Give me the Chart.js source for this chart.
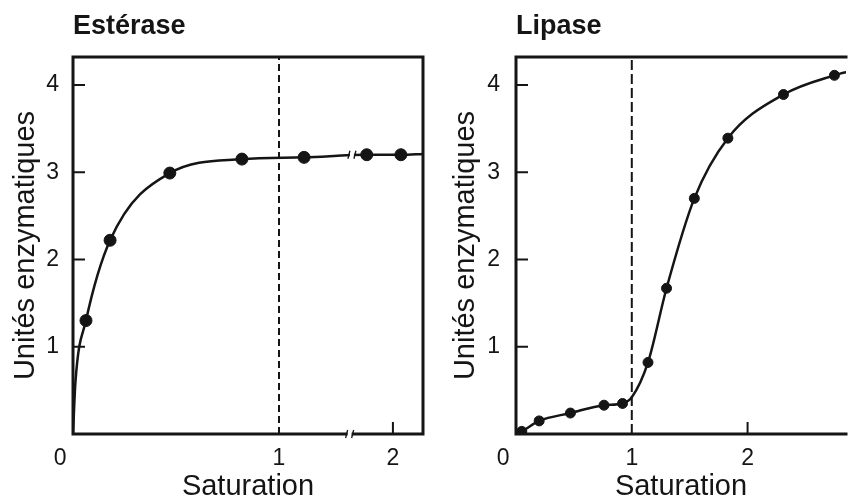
<!DOCTYPE html>
<html>
<head>
<meta charset="utf-8">
<script src="https://cdn.jsdelivr.net/npm/chart.js@4.4.0/dist/chart.umd.min.js"></script>
<style>
  html, body { margin: 0; padding: 0; background: #fff; }
  #wrap { position: relative; width: 852px; height: 501px; overflow: hidden; }
  .panel { position: absolute; top: 0; height: 501px; }
  #estPanel { left: 0; width: 430px; }
  #lipPanel { left: 430px; width: 422px; }
</style>
</head>
<body>
<div id="wrap">
  <div class="panel" id="estPanel"><canvas id="esterase" width="430" height="501"></canvas></div>
  <div class="panel" id="lipPanel"><canvas id="lipase" width="422" height="501"></canvas></div>
</div>
<script>
// Estérase: measured points (saturation, unités enzymatiques)
const estSat   = [0.063, 0.18, 0.47, 0.82, 1.22, 1.77, 2.07];
const estUnits = [1.30, 2.22, 2.99, 3.15, 3.17, 3.20, 3.20];
// extra points of the hand drawn curve (origin, first rise, right edge)
const estCurveSat   = [0, 0.012, 2.27];
const estCurveUnits = [0, 0.6, 3.21];

// Lipase
const lipSat   = [0.05, 0.20, 0.47, 0.76, 0.92, 1.14, 1.30, 1.54, 1.83, 2.31, 2.75];
const lipUnits = [0.03, 0.15, 0.24, 0.33, 0.35, 0.82, 1.67, 2.70, 3.39, 3.89, 4.11];
const lipCurveSat   = [0, 1.0, 2.9];
const lipCurveUnits = [0, 0.42, 4.16];

const yTicks = [0, 1, 2, 3, 4];
const xTicks = [0, 1, 2];

// the estérase x axis is broken after 1: 1 -> 2 is drawn shorter
const estKnots = [0, 1, 2];
const estKnotPos = [0, 1, 1.553];
const estBreak = 1.62;

const ink = '#151515';
const fontFamily = '"Liberation Sans", Arial, Helvetica, sans-serif';

function estAxis(s) {
    let i = 0;
    while (i < estKnots.length - 2 && s > estKnots[i + 1]) i++;
    const t = (s - estKnots[i]) / (estKnots[i + 1] - estKnots[i]);
    return estKnotPos[i] + t * (estKnotPos[i + 1] - estKnotPos[i]);
}

function points(xs, ys, map) {
    return xs.map((v, i) => ({ x: map(v), y: ys[i] }));
}

function curve(xs, ys, cx, cy, map) {
    return xs.concat(cx).map((v, i) => ({ s: v, y: ys.concat(cy)[i] }))
        .sort((a, b) => a.s - b.s)
        .map(p => ({ x: map(p.s), y: p.y }));
}

// frame, inner ticks, dashed line at saturation 1 and axis breaks
const decor = {
    id: 'decor',
    beforeDatasetsDraw(chart, args, o) {
        const { ctx, chartArea: a, scales: { x } } = chart;
        const px = x.getPixelForValue(o.dashAt);
        ctx.save();
        ctx.strokeStyle = ink;
        ctx.lineWidth = 2;
        ctx.setLineDash(o.dash);
        ctx.beginPath();
        ctx.moveTo(px, a.bottom);
        ctx.lineTo(px, a.top);
        ctx.stroke();
        ctx.restore();
    },
    afterDatasetsDraw(chart, args, o) {
        const { ctx, chartArea: a, scales: { x, y } } = chart;
        ctx.save();
        ctx.strokeStyle = ink;
        ctx.lineWidth = 3;
        ctx.lineCap = 'square';
        ctx.beginPath();
        if (o.rightBorder) {
            ctx.moveTo(a.right, a.top);
            ctx.lineTo(a.right, a.bottom);
        }
        ctx.moveTo(a.right, a.top);
        ctx.lineTo(a.left, a.top);
        ctx.lineTo(a.left, a.bottom);
        ctx.lineTo(a.right, a.bottom);
        ctx.stroke();

        // inner ticks
        ctx.lineWidth = 2;
        ctx.lineCap = 'butt';
        ctx.beginPath();
        y.ticks.forEach(t => {
            if (t.value === 0) return;
            const py = y.getPixelForValue(t.value);
            ctx.moveTo(a.left, py);
            ctx.lineTo(a.left + 12, py);
        });
        x.ticks.forEach(t => {
            if (t.value <= o.dashAt) return;
            const px = x.getPixelForValue(t.value);
            ctx.moveTo(px, a.bottom);
            ctx.lineTo(px, a.bottom - 12);
        });
        ctx.stroke();

        // axis break marks
        (o.breaks || []).forEach(b => {
            const bx = x.getPixelForValue(b.x);
            const by = y.getPixelForValue(b.y);
            ctx.fillStyle = '#fff';
            ctx.fillRect(bx - 2, by - 3, 4, 6);
            ctx.lineWidth = 1.3;
            ctx.beginPath();
            ctx.moveTo(bx - 4, by + 4);
            ctx.lineTo(bx - 2, by - 4);
            ctx.moveTo(bx + 2, by + 4);
            ctx.lineTo(bx + 4, by - 4);
            ctx.stroke();
        });
        ctx.restore();
    }
};

function makeChart(id, cfg) {
    const ctx = document.getElementById(id).getContext('2d');
    return new Chart(ctx, {
        type: 'scatter',
        data: {
            datasets: [{
                label: 'courbe',
                data: cfg.curve,
                showLine: true,
                borderColor: ink,
                borderWidth: 2.5,
                pointRadius: 0,
                cubicInterpolationMode: 'monotone'
            }, {
                label: 'mesures',
                data: cfg.points,
                showLine: false,
                backgroundColor: ink,
                borderColor: ink,
                pointRadius: cfg.radius,
                pointHoverRadius: cfg.radius
            }]
        },
        options: {
            responsive: false,
            animation: false,
            layout: { padding: { left: 0, right: cfg.padRight, top: 0, bottom: 0 } },
            plugins: {
                legend: { display: false },
                tooltip: { enabled: false },
                title: {
                    display: true,
                    text: cfg.title,
                    align: 'start',
                    fullSize: false,
                    color: ink,
                    font: { family: fontFamily, size: 27, weight: 'bold', lineHeight: 1.2 },
                    padding: { top: 10.5, bottom: 14.1 }
                },
                decor: cfg.decor
            },
            scales: {
                x: {
                    type: 'linear',
                    min: 0,
                    max: cfg.xMax,
                    grid: { display: false },
                    border: { display: false },
                    afterBuildTicks: s => { s.ticks = xTicks.map(v => ({ value: cfg.map(v) })); },
                    afterFit: s => { s.height = 67; },
                    ticks: {
                        color: ink,
                        padding: 3,
                        maxRotation: 0,
                        font: { family: fontFamily, size: 23 },
                        callback: (v, i) => xTicks[i] === 0 ? '0\u00A0\u00A0\u00A0\u00A0' : String(xTicks[i])
                    },
                    title: {
                        display: true,
                        text: 'Saturation',
                        color: ink,
                        font: { family: fontFamily, size: 29, lineHeight: 1 },
                        padding: { top: 0, bottom: 0 }
                    }
                },
                y: {
                    min: 0,
                    max: 4.32,
                    grid: { display: false },
                    border: { display: false },
                    afterBuildTicks: s => { s.ticks = yTicks.map(v => ({ value: v })); },
                    afterFit: s => { s.width = cfg.yWidth; },
                    ticks: {
                        color: ink,
                        padding: cfg.yTickPad,
                        font: { family: fontFamily, size: 23 },
                        callback: v => v === 0 ? '' : String(v)
                    },
                    title: {
                        display: true,
                        text: 'Unités enzymatiques',
                        color: ink,
                        font: { family: fontFamily, size: 29, lineHeight: 1.2 },
                        padding: { top: cfg.yTitlePad, bottom: 0 }
                    }
                }
            }
        },
        plugins: [decor]
    });
}

makeChart('esterase', {
    title: 'Estérase',
    map: estAxis,
    curve: curve(estSat, estUnits, estCurveSat, estCurveUnits, estAxis),
    points: points(estSat, estUnits, estAxis),
    radius: 6,
    xMax: 1.699,
    padRight: 7,
    yWidth: 73,
    yTickPad: 6,
    yTitlePad: 9,
    decor: {
        dashAt: 1,
        dash: [7, 4],
        rightBorder: true,
        breaks: [{ x: estAxis(estBreak), y: 0 }, { x: estAxis(estBreak + 0.02), y: 3.2 }]
    }
});

makeChart('lipase', {
    title: 'Lipase',
    map: v => v,
    curve: curve(lipSat, lipUnits, lipCurveSat, lipCurveUnits, v => v),
    points: points(lipSat, lipUnits, v => v),
    radius: 5,
    xMax: 2.85,
    padRight: 0,
    yWidth: 86,
    yTickPad: 8,
    yTitlePad: 19,
    decor: { dashAt: 1, dash: [10, 4], rightBorder: false, breaks: [] }
});
</script>
</body>
</html>
